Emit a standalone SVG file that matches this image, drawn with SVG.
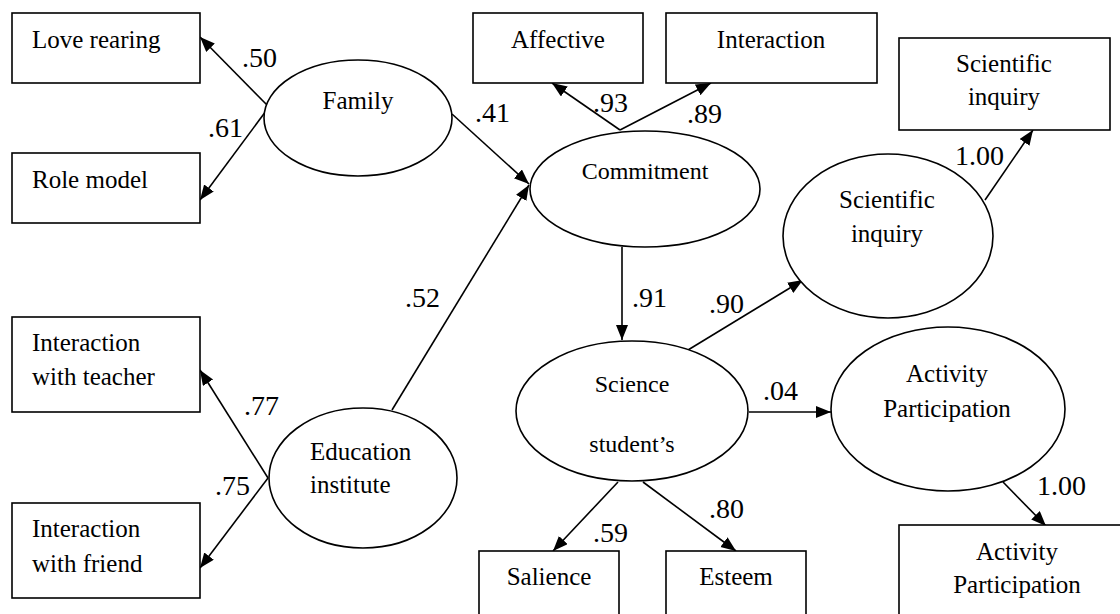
<svg xmlns="http://www.w3.org/2000/svg" width="1120" height="614" viewBox="0 0 1120 614">
<style>
.box{fill:#fff;stroke:#000;stroke-width:1.6}
.ell{fill:#fff;stroke:#000;stroke-width:1.6}
.t{font-family:"Liberation Serif","Times New Roman",serif;font-size:25px;fill:#000}
.c{text-anchor:middle}
.lb{font-family:"Liberation Serif","Times New Roman",serif;font-size:28px;fill:#000}
.e{fill:none;stroke:#000;stroke-width:1.6;marker-end:url(#ah)}
.n{fill:none;stroke:#000;stroke-width:1.6}
</style>
<defs>
<marker id="ah" markerUnits="userSpaceOnUse" markerWidth="16" markerHeight="14" refX="15" refY="6" orient="auto">
<path d="M0,0 L15,6 L0,12 Z" fill="#000"/>
</marker>
</defs>
<rect width="1120" height="614" fill="#fff"/>
<g id="connectors">
<path class="e" d="M268,106 L200,37"/>
<path class="e" d="M266,111 L200,200"/>
<path class="e" d="M452,114 L529,184"/>
<path class="e" d="M392,410 L529,185"/>
<path class="e" d="M620,130 L552,83"/>
<path class="e" d="M620,130 L711,83"/>
<path class="e" d="M622,247 L622,340"/>
<path class="e" d="M688,350 L803,280"/>
<path class="e" d="M985,200 L1033,130"/>
<path class="e" d="M749,412 L831,412"/>
<path class="e" d="M1003,482 L1046,526"/>
<path class="e" d="M618,482 L553,551"/>
<path class="e" d="M643,482 L736,551"/>
<path class="e" d="M268,478 L200,370"/>
<path class="e" d="M268,478 L200,568"/>
<g id="labels">
<text class="lb" x="242" y="67">.50</text>
<text class="lb" x="208" y="137">.61</text>
<text class="lb" x="475" y="122">.41</text>
<text class="lb" x="593" y="112">.93</text>
<text class="lb" x="687" y="123">.89</text>
<text class="lb" x="405" y="307">.52</text>
<text class="lb" x="632" y="307">.91</text>
<text class="lb" x="709" y="313">.90</text>
<text class="lb" x="955" y="165">1.00</text>
<text class="lb" x="763" y="400">.04</text>
<text class="lb" x="1037" y="495">1.00</text>
<text class="lb" x="593" y="542">.59</text>
<text class="lb" x="709" y="518">.80</text>
<text class="lb" x="244" y="415">.77</text>
<text class="lb" x="215" y="495">.75</text>
</g>
</g>
<g id="love-rearing">
<rect class="box" x="12" y="13" width="188" height="70"/>
<text class="t" x="32" y="48">Love rearing</text>
</g>
<g id="role-model">
<rect class="box" x="12" y="153" width="188" height="70"/>
<text class="t" x="32" y="188">Role model</text>
</g>
<g id="family">
<ellipse class="ell" cx="358" cy="118" rx="94" ry="58"/>
<text class="t c" x="358" y="109">Family</text>
</g>
<g id="interaction-teacher">
<rect class="box" x="12" y="317" width="188" height="95"/>
<text class="t" x="32" y="351">Interaction</text>
<text class="t" x="32" y="385">with teacher</text>
</g>
<g id="interaction-friend">
<rect class="box" x="12" y="503" width="188" height="95"/>
<text class="t" x="32" y="537">Interaction</text>
<text class="t" x="32" y="572">with friend</text>
</g>
<g id="education">
<ellipse class="ell" cx="363" cy="478" rx="94" ry="70"/>
<text class="t" x="310" y="460">Education</text>
<text class="t" x="310" y="493">institute</text>
</g>
<g id="affective">
<rect class="box" x="473" y="13" width="170" height="70"/>
<text class="t c" x="558" y="48">Affective</text>
</g>
<g id="interaction">
<rect class="box" x="666" y="13" width="211" height="70"/>
<text class="t c" x="771" y="48">Interaction</text>
</g>
<g id="commitment">
<ellipse class="ell" cx="645" cy="189" rx="115" ry="58"/>
<text class="t c" x="645" y="179" style="font-size:24px">Commitment</text>
</g>
<g id="sci-inquiry-box">
<rect class="box" x="899" y="38" width="211" height="92"/>
<text class="t c" x="1004" y="72">Scientific</text>
<text class="t c" x="1004" y="105">inquiry</text>
</g>
<g id="sci-inquiry">
<ellipse class="ell" cx="888" cy="236" rx="105" ry="82"/>
<text class="t c" x="887" y="208">Scientific</text>
<text class="t c" x="887" y="242">inquiry</text>
</g>
<g id="science-students">
<ellipse class="ell" cx="632" cy="411" rx="116" ry="70"/>
<text class="t c" x="632" y="392" style="font-size:24px">Science</text>
<text class="t c" x="632" y="452" style="font-size:24px">student’s</text>
</g>
<g id="activity">
<ellipse class="ell" cx="948" cy="409" rx="117" ry="82"/>
<text class="t c" x="947" y="382">Activity</text>
<text class="t c" x="947" y="417">Participation</text>
</g>
<g id="activity-box">
<rect class="box" x="899" y="525" width="240" height="100"/>
<text class="t c" x="1017" y="560">Activity</text>
<text class="t c" x="1017" y="593">Participation</text>
</g>
<g id="salience">
<rect class="box" x="479" y="551" width="140" height="80"/>
<text class="t c" x="549" y="585">Salience</text>
</g>
<g id="esteem">
<rect class="box" x="666" y="551" width="140" height="80"/>
<text class="t c" x="736" y="585">Esteem</text>
</g>
</svg>
